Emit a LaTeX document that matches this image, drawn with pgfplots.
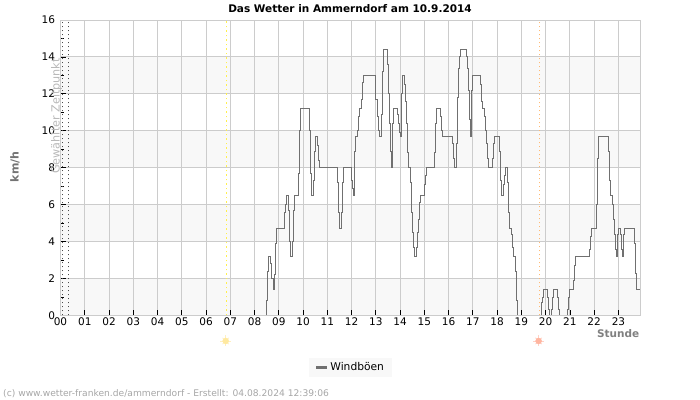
\documentclass[border=0pt]{standalone}
\usepackage{fontspec}
\setmainfont{DejaVu Sans}
\usepackage{pgfplots}
\usepackage{pgfplotstable}
\pgfplotsset{compat=1.18}
\definecolor{band}{HTML}{F8F8F8}
\definecolor{gridc}{HTML}{CCCCCC}
\definecolor{gustline}{HTML}{707070}
\definecolor{sunup}{HTML}{FFE9A0}
\definecolor{sunupray}{HTML}{FFF0C0}
\definecolor{sundown}{HTML}{FFB5A0}
\definecolor{sundownray}{HTML}{FFD2C6}
\definecolor{riseline}{HTML}{FFF04D}

\pgfplotstableread{
h v
8.49 0
8.49 0.8
8.54 2.4
8.59 3.2
8.66 2.8
8.70 2.0
8.76 1.4
8.84 2.2
8.88 3.9
8.92 4.7
9.24 5.6
9.28 6.0
9.32 6.5
9.40 5.7
9.44 4.0
9.50 3.2
9.57 4.0
9.61 5.7
9.65 6.5
9.81 7.7
9.85 10.0
9.90 11.2
10.27 10.0
10.31 7.7
10.35 6.5
10.43 7.3
10.47 8.9
10.51 9.7
10.60 9.2
10.64 8.4
10.68 8.0
11.42 7.2
11.46 5.6
11.50 4.7
11.59 5.6
11.63 7.2
11.67 8.0
12.00 7.3
12.04 6.9
12.08 6.5
12.12 8.9
12.16 9.7
12.24 10.0
12.29 10.8
12.33 11.2
12.41 11.7
12.45 12.6
12.49 13.0
13.00 11.7
13.08 10.8
13.12 10.0
13.16 9.7
13.25 10.9
13.29 13.2
13.33 14.4
13.49 13.6
13.53 12.0
13.58 10.4
13.62 8.9
13.66 8.0
13.70 10.4
13.74 11.2
13.90 10.9
13.95 10.4
13.99 9.9
14.03 9.7
14.07 12.0
14.11 13.0
14.19 12.5
14.23 11.6
14.27 10.4
14.32 8.8
14.36 8.0
14.44 7.2
14.48 5.6
14.52 4.5
14.56 3.7
14.60 3.2
14.68 3.7
14.73 4.5
14.77 5.2
14.81 6.1
14.85 6.5
15.01 7.1
15.05 7.6
15.10 8.0
15.42 8.8
15.47 10.4
15.51 11.2
15.67 10.8
15.71 10.0
15.75 9.7
16.16 9.3
16.21 8.5
16.25 8.0
16.33 9.3
16.37 11.8
16.41 13.4
16.45 14.0
16.49 14.4
16.74 14.0
16.78 13.4
16.82 12.2
16.86 10.6
16.90 9.7
16.95 12.2
16.99 13.0
17.32 12.5
17.36 11.6
17.40 11.2
17.48 10.8
17.52 10.0
17.56 9.3
17.60 8.5
17.64 8.0
17.81 8.5
17.85 9.3
17.89 9.7
18.10 8.9
18.14 7.3
18.18 6.5
18.26 7.1
18.30 7.6
18.34 8.0
18.42 7.2
18.47 5.6
18.51 4.7
18.59 4.4
18.63 3.7
18.67 3.2
18.75 2.4
18.79 0.8
18.84 0
18.84 nan
19.82 0
19.82 0.7
19.87 1.0
19.91 1.4
20.07 1.0
20.11 0.3
20.15 0
20.15 nan
20.24 0
20.24 0.3
20.28 1.0
20.32 1.4
20.48 1.0
20.52 0.3
20.57 0
20.57 nan
20.90 0
20.90 0.3
20.94 1.0
20.98 1.4
21.14 1.9
21.18 2.7
21.23 3.2
21.80 3.6
21.84 4.3
21.88 4.7
22.09 6.0
22.13 8.5
22.17 9.7
22.59 8.9
22.63 7.3
22.67 6.5
22.75 6.0
22.79 5.2
22.83 4.4
22.87 3.6
22.91 3.2
22.96 4.4
23.00 4.7
23.08 4.4
23.12 3.6
23.16 3.2
23.20 4.4
23.24 4.7
23.66 3.9
23.70 2.3
23.74 1.4
23.88 1.4
}\gusttable

\begin{document}
\begin{tikzpicture}
\begin{axis}[
    at={(60.5bp,84.5bp)}, anchor=south west,
    scale only axis, width=580bp, height=295.5bp,
    set layers, clip=false,
    xmin=0, xmax=23.91, ymin=0, ymax=16,
    xtick={1,...,23},
    xticklabels={01,02,03,04,05,06,07,08,09,10,11,12,13,14,15,16,17,18,19,20,21,22,23},
    extra x ticks={0}, extra x tick labels={00},
    extra x tick style={major tick length=0pt},
    ytick={0,2,...,16}, minor y tick num=1,
    xtick pos=lower, ytick pos=left,
    tick align=inside, major tick length=5bp, minor tick length=3bp,
    tick style={black, line width=0.8bp},
    grid=major, grid style={gridc, line width=0.9bp},
    axis line style={gridc, line width=0.9bp},
    tick label style={font=\fontsize{10.5bp}{12bp}\selectfont, /pgf/number format/assume math mode=true},
    xticklabel style={yshift=1bp},
    yticklabel style={xshift=-2bp},
    legend style={at={(0.5,-0.176)}, anchor=center, fill=band, draw=none,
        font=\fontsize{10.7bp}{12bp}\selectfont, inner xsep=6bp, inner ysep=3bp},
    legend image code/.code={\draw[gustline, line width=2.4bp] (0bp,0bp) -- (11bp,0bp);},
]
% alternating bands
\addplot[forget plot, on layer=axis background, fill=band, draw=none] coordinates {(0,0) (23.91,0) (23.91,2) (0,2)} --cycle;
\addplot[forget plot, on layer=axis background, fill=band, draw=none] coordinates {(0,4) (23.91,4) (23.91,6) (0,6)} --cycle;
\addplot[forget plot, on layer=axis background, fill=band, draw=none] coordinates {(0,8) (23.91,8) (23.91,10) (0,10)} --cycle;
\addplot[forget plot, on layer=axis background, fill=band, draw=none] coordinates {(0,12) (23.91,12) (23.91,14) (0,14)} --cycle;
% selected time, sunrise, sunset
\addplot[forget plot, black!70, dash pattern=on 1bp off 3bp, line width=0.9bp] coordinates {(0.09,0) (0.09,16)};
\addplot[forget plot, black!70, dash pattern=on 1bp off 3bp, line width=0.9bp] coordinates {(0.33,0) (0.33,16)};
\addplot[forget plot, color=riseline, dash pattern=on 1.5bp off 3bp, line width=0.7bp] coordinates {(6.84,0) (6.84,16)};
\addplot[forget plot, color=orange!55, dash pattern=on 1.5bp off 2.5bp, line width=0.8bp] coordinates {(19.74,0) (19.74,16)};
% sun symbols below the axis
\addplot[forget plot, only marks, mark=+, mark size=5.5bp, mark options={draw=sunupray, line width=0.7bp}] coordinates {(6.81,-1.38)};
\addplot[forget plot, only marks, mark=x, mark size=4.5bp, mark options={draw=sunupray, line width=0.7bp}] coordinates {(6.81,-1.38)};
\addplot[forget plot, only marks, mark=*, mark size=3bp, mark options={draw=sunup, fill=sunup}] coordinates {(6.81,-1.38)};
\addplot[forget plot, only marks, mark=+, mark size=5.5bp, mark options={draw=sundownray, line width=0.7bp}] coordinates {(19.71,-1.38)};
\addplot[forget plot, only marks, mark=x, mark size=4.5bp, mark options={draw=sundownray, line width=0.7bp}] coordinates {(19.71,-1.38)};
\addplot[forget plot, only marks, mark=*, mark size=3bp, mark options={draw=sundown, fill=sundown}] coordinates {(19.71,-1.38)};
% gusts
\addplot[const plot, gustline, line width=1bp, unbounded coords=jump] table[x=h,y=v] {\gusttable};
\addlegendentry{Windböen}
\end{axis}
\node[font=\bfseries\fontsize{10.5bp}{12bp}\selectfont] at (350bp,391.5bp) {Das Wetter in Ammerndorf am 10.9.2014};
\node[font=\bfseries\fontsize{11bp}{13bp}\selectfont, text=black!55, rotate=90] at (15bp,233bp) {km/h};
\node[font=\fontsize{11.2bp}{13bp}\selectfont, text=black!28, rotate=90] at (56.5bp,284bp) {Gewählter Zeitpunkt};
\node[font=\bfseries\fontsize{10.5bp}{12bp}\selectfont, text=black!50, anchor=east, inner sep=0pt] at (639.5bp,66bp) {Stunde};
\node[font=\fontsize{9.15bp}{11bp}\selectfont, text=black!35, anchor=west, inner sep=0pt] at (3bp,6bp) {(c) www.wetter-franken.de/ammerndorf - Erstellt: 04.08.2024 12:39:06};
\pgfresetboundingbox
\path[use as bounding box] (0bp,0bp) rectangle (700bp,400bp);
\end{tikzpicture}
\end{document}
